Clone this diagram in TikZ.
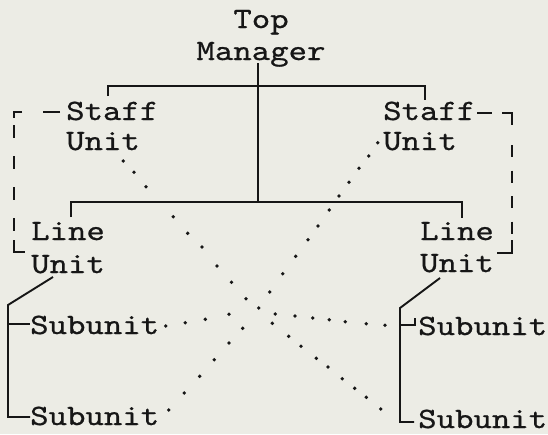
\documentclass[tikz,border=0pt]{standalone}
\usepackage{fontspec}
\usetikzlibrary{calc}
\definecolor{paper}{RGB}{236,236,229}
\definecolor{ink}{RGB}{22,22,22}
% typewriter labels: Latin Modern Mono, widened and slightly heavier
\newfontfamily\twfont[Extension=.otf, FakeStretch=1.19, FakeBold=0.7]{lmmono10-regular}
\begin{document}
\begin{tikzpicture}[x=1pt,y=-1pt,
  lbl/.style={inner sep=0pt, font=\twfont\fontsize{29.5}{32}\selectfont, text=ink},
  solidline/.style={draw=ink, line width=1.9pt},
  dashline/.style={draw=ink, line width=1.9pt},
  dotmark/.style={fill=ink},
]
\fill[paper] (0,0) rectangle (548,434);
\useasboundingbox (0,0) rectangle (548,434);

% ---- labels ----
\node[lbl, anchor=base] (top) at (261,28) {Top};
\node[lbl, anchor=base] (mgr) at (261,60) {Manager};
\node[lbl, anchor=base west] (lstaff) at (66,120) {Staff};
\node[lbl, anchor=base west] (lsunit) at (66,150) {Unit};
\node[lbl, anchor=base west] (rstaff) at (383,120) {Staff};
\node[lbl, anchor=base west] (rsunit) at (383,150) {Unit};
\node[lbl, anchor=base west] (lline) at (31,240) {Line};
\node[lbl, anchor=base west] (llunit) at (31,273) {Unit};
\node[lbl, anchor=base west] (rline) at (420,240) {Line};
\node[lbl, anchor=base west] (rlunit) at (420,272) {Unit};
\node[lbl, anchor=base west] (lsub1) at (30,334) {Subunit};
\node[lbl, anchor=base west] (lsub2) at (30,425) {Subunit};
\node[lbl, anchor=base west] (rsub1) at (418,335) {Subunit};
\node[lbl, anchor=base west] (rsub2) at (418,428) {Subunit};

% ---- junction points ----
\coordinate (mgrfoot) at (258,63);
\coordinate (stafftl) at (108,96);
\coordinate (staffl) at (108,86);
\coordinate (staffr) at (425,86);
\coordinate (stafftr) at (425,100);
\coordinate (linetl) at (71,217);
\coordinate (linel) at (71,202);
\coordinate (liner) at (462,202);
\coordinate (linetr) at (462,218);
\coordinate (linemid) at (258,202);

% ---- solid hierarchy lines ----
\draw[solidline] (mgrfoot) -- (linemid);
\draw[solidline] (stafftl) -- (staffl) -- (staffr) -- (stafftr);
\draw[solidline] (linetl) -- (linel) -- (liner) -- (linetr);

% left line unit and its subunits
\coordinate (lu) at (53,277);
\coordinate (lbk) at (8,305);
\coordinate (lbt) at (8,324);
\coordinate (lbb) at (8,417);
\draw[solidline] (lu) -- (lbk) -- (lbb) -- (30,417);
\draw[solidline] (lbt) -- (30,324);

% right line unit and its subunits
\coordinate (ru) at (440,278);
\coordinate (rbk) at (400,308);
\coordinate (rbt) at (400,325);
\coordinate (rbb) at (400,422);
\draw[solidline] (ru) -- (rbk) -- (rbb) -- (414,422);
\draw[solidline] (rbt) -- (415,325) -- (415,318);

% ---- dashed staff links ----
% left
\draw[dashline] (60,112) -- (43,112);
\draw[dashline] (22,112) -- (14,112) -- (14,118);
\draw[dashline, dash pattern=on 13pt off 18pt] (14,125) -- (14,231);
\draw[dashline] (14,240) -- (14,252) -- (25,252);
% right
\draw[dashline] (477,113) -- (492,113);
\draw[dashline] (502,113) -- (512,113) -- (512,125);
\draw[dashline, dash pattern=on 12pt off 13.5pt] (512,145) -- (512,234);
\draw[dashline] (512,240) -- (512,253) -- (497,253);

% ---- dotted cross links (hand-spaced dots) ----
% left staff unit down to right lower subunit
\foreach \p in {(123.3,161),(134,172.3),(146,186.7),(173.3,216.7),(187.7,233.3),
  (202,247),(217,266),(231.5,282.3),(246,298.7),(272.3,323.3),(288.7,336.3),
  (301,346.3),(316.3,358.3),(328,367),(342.3,378.7),(354.7,388.3),(366.3,397.3),
  (380.7,409)}
  \fill[dotmark] \p circle (1.9pt);
% left lower subunit up to right staff unit
\foreach \p in {(168.7,410),(184.3,393),(199.7,376.3),(214.3,359.7),(229,343),
  (242.7,328.3),(258.7,308),(269.7,292),(282.7,273.7),(295.7,256.3),(308,239.7),
  (318,226),(329.3,210),(339,196),(349,182.3),(359,168.3),(368.7,156),(377.7,142.7)}
  \fill[dotmark] \p circle (1.9pt);
% left upper subunit across to right upper subunit
\foreach \p in {(165.7,326),(185.3,322.7),(205.3,319.3),(229,314.3),(275.3,314),
  (295,316),(312.7,318),(329.3,319.7),(345.3,321.7),(366.3,323.7),(385,325.3)}
  \fill[dotmark] \p circle (1.9pt);
\end{tikzpicture}
\end{document}
